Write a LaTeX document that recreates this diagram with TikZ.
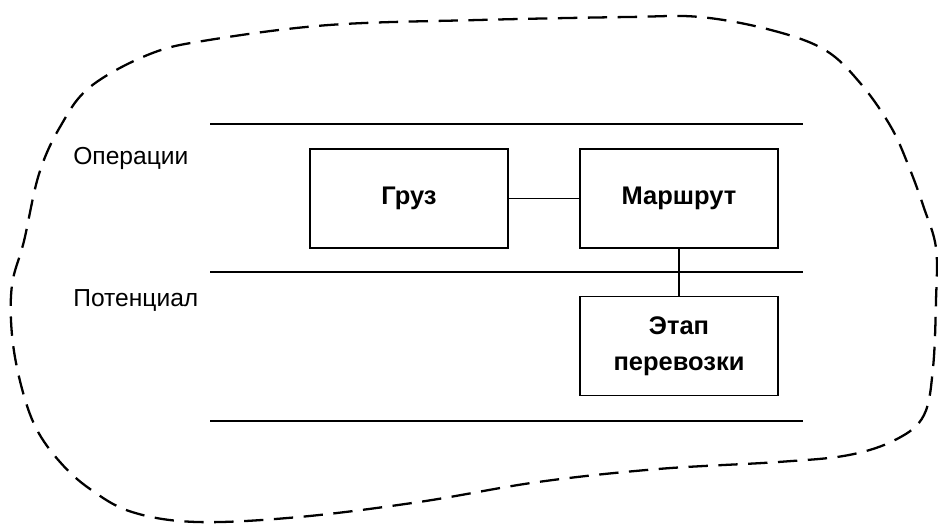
\documentclass[tikz,border=0pt]{standalone}
\usepackage{fontspec}
\setmainfont{Liberation Sans}
\tikzset{
  box/.style={draw,line width=0.8pt,minimum width=3.96cm,minimum height=1.98cm,align=center,font=\fontsize{14.5}{20.5}\selectfont\bfseries},
  lbl/.style={anchor=west,inner sep=0pt,font=\fontsize{14}{17}\selectfont},
  rule/.style={line width=0.7pt},
  blob/.style={line width=1.3pt,dash pattern=on 11pt off 6pt}
}
\begin{document}
\begin{tikzpicture}[x=0.02cm,y=-0.02cm]
				\useasboundingbox (0,0) rectangle (938,525);
				% boundary
				\draw[blob] plot[smooth cycle,tension=0.6] coordinates {(700,17) (771,30) (825,50) (861,84) (891,127) (909,167) (924,208) (936,248) (936,301) (933,368) (924,415) (897,439) (849,455) (778,462) (658,469) (538,482) (419,502) (299,517) (197,522) (132,512) (90,489) (60,462) (36,428) (21,385) (12,335) (12,285) (24,241) (39,174) (60,127) (90,87) (150,54) (209,40) (329,25) (478,20) (628,17)};
				% layers
				\draw[rule] (210,124)--(803,124);
				\draw[rule] (210,272)--(803,272);
				\draw[rule] (210,421)--(803,421);
				\node[lbl] (ops) at (73,158) {Операции};
				\node[lbl] (pot) at (73,300) {Потенциал};
				% entities
				\node[box] (cargo) at (409,198.5) {Груз};
				\node[box] (route) at (679,198.5) {Маршрут};
				\node[box] (leg) at (679,346) {Этап\\перевозки};
				\draw[line width=0.8pt] (cargo)--(route);
				\draw[line width=0.8pt] (route)--(leg);
			\end{tikzpicture}
\end{document}
